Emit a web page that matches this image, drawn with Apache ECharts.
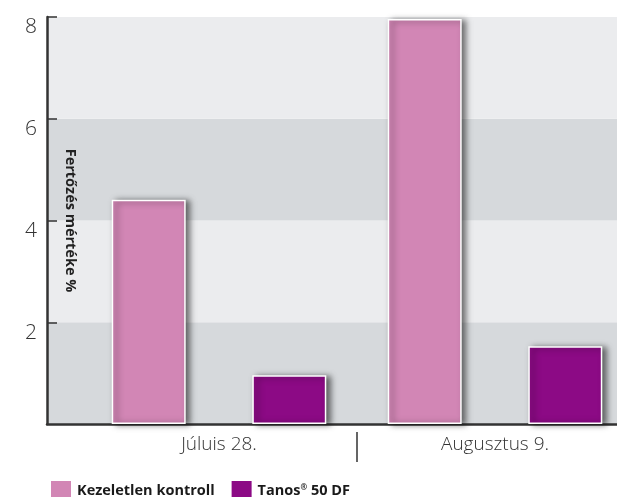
<!DOCTYPE html>
<html><head><meta charset="utf-8">
<script src="https://cdn.jsdelivr.net/npm/echarts@6/dist/echarts.min.js"></script>
<style>html,body{margin:0;padding:0;background:#fff}#c{width:617px;height:497px}</style>
</head><body><div id="c"></div>
<script>
const categories = ['Júluis 28.', 'Augusztus 9.'];
const kontroll = [4.41, 7.96];
const tanos = [0.96, 1.53];
const seriesNames = ['Kezeletlen kontroll', 'Tanos® 50 DF'];
const yTicks = [0, 2, 4, 6, 8];
const yName = 'Fertőzés mértéke %';

const chart = echarts.init(document.getElementById('c'), null, {renderer: 'canvas'});
const font = '"Open Sans", Lato, sans-serif';
const shadow = {shadowColor: 'rgba(0,0,0,0.55)', shadowBlur: 6, shadowOffsetX: 4, shadowOffsetY: 1};
chart.setOption({
  animation: false,
  backgroundColor: '#fff',
  textStyle: {fontFamily: font},
  legend: {
    left: 49, top: 479, padding: 0, itemWidth: 22, itemHeight: 22, itemGap: 15,
    icon: 'rect',
    textStyle: {fontFamily: font, fontWeight: 'bold', fontSize: 14.5, color: '#1a1a1a',
      rich: {sup: {fontSize: 8, verticalAlign: 'top', fontWeight: 'bold', padding: [0,0,6,0], fontFamily: font},
             b: {fontWeight: 'bold', fontSize: 14.5, fontFamily: font}}},
    formatter: function (n) {
      if (n.indexOf('®') >= 0) { const p = n.split('®'); return '{b|' + p[0] + '}{sup|®}{b|' + p[1] + '}'; }
      return n;
    },
    data: seriesNames
  },
  grid: [
    {left: 47, right: 0, top: 17, bottom: 73, outerBoundsMode: 'none'},
    {left: 81, width: 552, top: 17, bottom: 73, outerBoundsMode: 'none'}
  ],
  xAxis: [
    {gridIndex: 0, type: 'category', data: categories, axisLabel: {show: false}, axisTick: {show: false},
      axisLine: {lineStyle: {color: '#333', width: 2.5}}},
    {gridIndex: 1, type: 'category', data: categories, position: 'bottom', offset: 8,
      axisLine: {show: false},
      axisTick: {show: false},
      axisLabel: {fontSize: 19, fontWeight: 300, color: '#333', margin: 3, fontFamily: font}},
    {gridIndex: 1, type: 'value', min: 0, max: categories.length, interval: 1, position: 'bottom', offset: 8,
      axisLine: {show: false}, axisLabel: {show: false}, splitLine: {show: false},
      axisTick: {show: true, length: 30, customValues: [1], lineStyle: {color: '#333', width: 1.5}}}
  ],
  yAxis: [
    {gridIndex: 0, type: 'value', min: yTicks[0], max: yTicks[yTicks.length - 1], interval: 2,
      name: yName, nameLocation: 'middle', nameRotate: -90, nameGap: -31,
      nameTextStyle: {fontWeight: 'bold', fontSize: 14.5, color: '#222', fontFamily: font},
      axisLine: {show: true, lineStyle: {color: '#333', width: 2.5}},
      axisTick: {show: true, inside: true, length: 10, lineStyle: {color: '#333', width: 1.5}},
      axisLabel: {showMinLabel: false, fontSize: 21, fontWeight: 300, color: '#333', margin: 10, fontFamily: font,
        verticalAlign: 'top'},
      splitLine: {show: false},
      splitArea: {show: true, areaStyle: {color: ['#d6d9dc', '#ebecee']}}},
    {gridIndex: 1, type: 'value', min: yTicks[0], max: yTicks[yTicks.length - 1], interval: 2, show: false,
      splitLine: {show: false}}
  ],
  series: [
    {name: seriesNames[0], type: 'bar', xAxisIndex: 1, yAxisIndex: 1, data: kontroll, barWidth: 74, barGap: '90%',
      itemStyle: Object.assign({color: '#d286b5', borderColor: '#fff', borderWidth: 1.5}, shadow)},
    {name: seriesNames[1], type: 'bar', xAxisIndex: 1, yAxisIndex: 1, data: tanos, barWidth: 74, barGap: '90%',
      itemStyle: Object.assign({color: '#8c0a85', borderColor: '#fff', borderWidth: 1.5}, shadow)}
  ]
});
</script></body></html>
